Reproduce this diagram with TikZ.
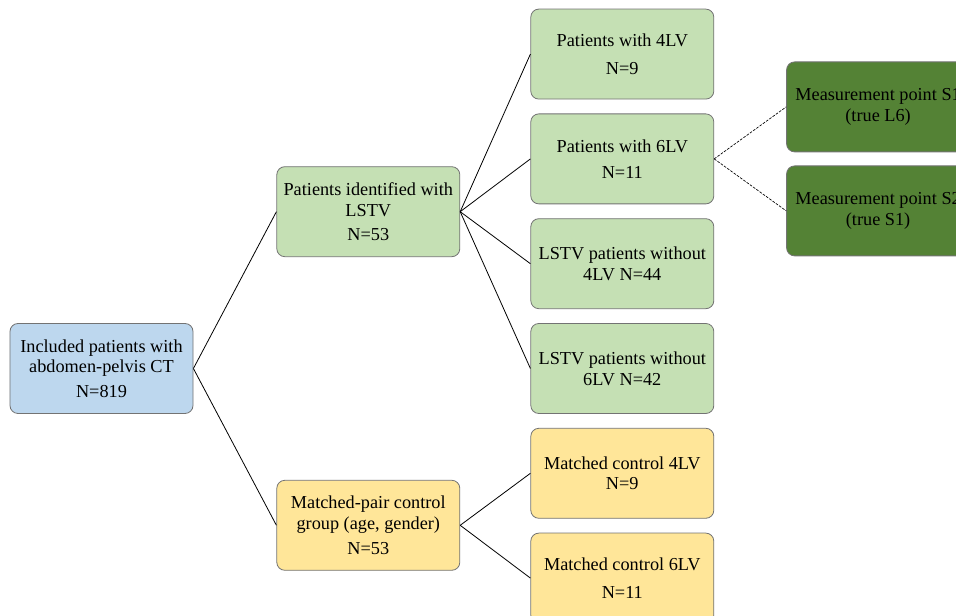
\documentclass[tikz,border=0pt]{standalone}
\usepackage{fontspec}
\setmainfont{Liberation Serif}
\usepackage{xcolor}
\usepackage{tikz}
\usetikzlibrary{positioning}
\definecolor{cohortblue}{HTML}{BDD7EE}
\definecolor{lstvgreen}{HTML}{C5E0B4}
\definecolor{ctrlyellow}{HTML}{FFE699}
\definecolor{pointgreen}{HTML}{548235}

\begin{document}
\begin{tikzpicture}[node distance = 10.5pt, font = \fontsize{13.7}{15.5}\selectfont]
    \tikzstyle{box} = [rectangle, rounded corners = 6pt, draw = black!55, line width = 0.6pt, minimum width = 137.25pt, minimum height = 67.5pt, align = center, inner sep = 2pt];
    \tikzstyle{cohort} = [box, fill = cohortblue];
    \tikzstyle{lstv} = [box, fill = lstvgreen];
    \tikzstyle{control} = [box, fill = ctrlyellow];
    \tikzstyle{point} = [box, fill = pointgreen];
    \useasboundingbox (-76.125pt, -185.625pt) rectangle (640.875pt, 276.375pt);

    \node [cohort] (A) {Included patients with\\abdomen-pelvis CT\\[3pt]N=819};

    \node [lstv, above right = 49.5pt and 62.25pt of A] (B) {Patients identified with\\LSTV\\[3pt]N=53};
    \node [control, below right = 49.5pt and 62.25pt of A] (C) {Matched-pair control\\group (age, gender)\\[3pt]N=53};

    \node [lstv, right = 252.75pt of A] (D4) {LSTV patients without\\6LV N=42};
    \node [lstv, above = of D4] (D3) {LSTV patients without\\4LV N=44};
    \node [lstv, above = of D3] (D2) {Patients with 6LV\\[4pt]N=11};
    \node [lstv, above = of D2] (D1) {Patients with 4LV\\[5pt]N=9};

    \node [control, below = of D4] (E1) {Matched control 4LV\\N=9};
    \node [control, below = of E1] (E2) {Matched control 6LV\\[5pt]N=11};

    \node [point, right = 54pt of D2, yshift = 39pt] (F1) {Measurement point S1\\(true L6)};
    \node [point, right = 54pt of D2, yshift = -39pt] (F2) {Measurement point S2\\(true S1)};

    \foreach \i in {B, C}
        \draw [line width = 0.6pt] (A.east) to (\i.west);
    \foreach \i in {1, 2, 3, 4}
        \draw [line width = 0.6pt] (B.east) to (D\i.west);
    \foreach \i in {1, 2}
        \draw [line width = 0.6pt] (C.east) to (E\i.west);
    \foreach \i in {1, 2}
        \draw [line width = 0.5pt, dash pattern = on 2pt off 1pt] (D2.east) to (F\i.west);
\end{tikzpicture}
\end{document}
